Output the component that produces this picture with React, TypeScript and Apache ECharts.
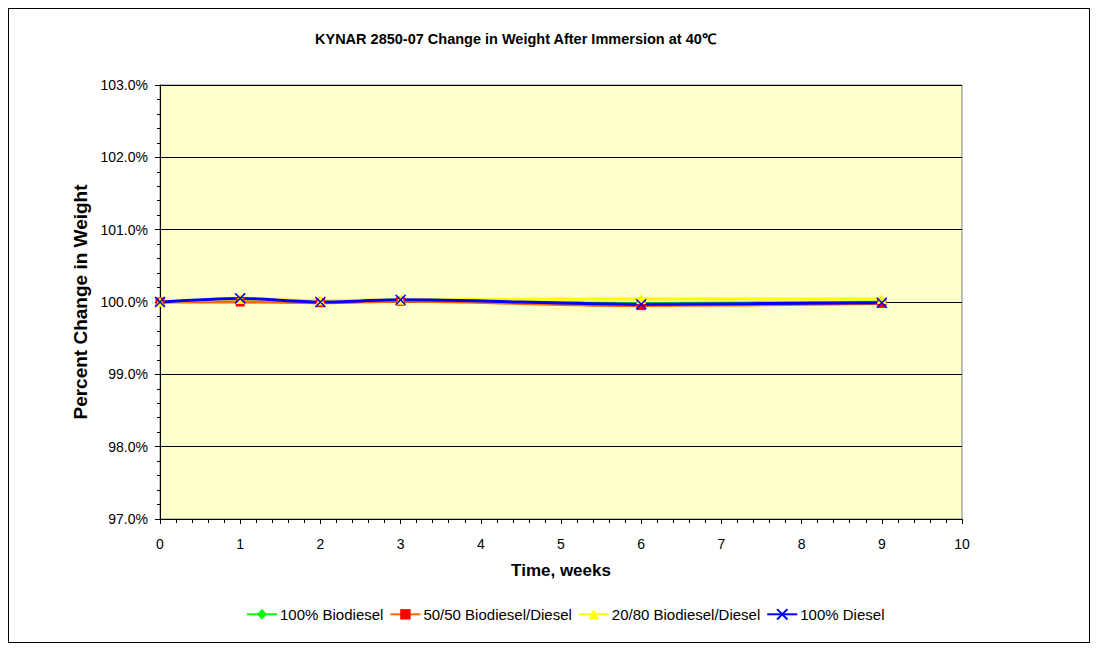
import React, { useEffect, useRef } from "react";
import * as echarts from "echarts";

const weeks = [0, 1, 2, 3, 6, 9];
const biodiesel100 = [100.0, 100.03, 100.01, 100.02, 99.98, 100.0];
const blend5050 = [100.0, 100.0, 99.99, 100.01, 99.95, 99.98];
const blend2080 = [100.0, 100.04, 100.02, 100.03, 100.04, 100.04];
const diesel100 = [100.0, 100.05, 100.0, 100.03, 99.97, 99.99];

const seriesNames = ["100% Biodiesel", "50/50 Biodiesel/Diesel", "20/80 Biodiesel/Diesel", "100% Diesel"];
const FONT = "Liberation Sans, Arial, sans-serif";

const pair = (vals: number[]) => weeks.map((w, i) => [w, vals[i]]);

export default function App() {
  const ref = useRef<HTMLDivElement>(null);
  useEffect(() => {
    if (!ref.current) return;
    const chart = echarts.init(ref.current, undefined, { renderer: "svg" });
    const xSym = "path://M0,0L10,10M10,0L0,10";
    chart.setOption({
      animation: false,
      textStyle: { fontFamily: FONT },
      title: {
        text: "KYNAR 2850-07 Change in Weight After Immersion at 40\u2103",
        left: 301,
        top: 17,
        textStyle: { fontSize: 14.5, fontWeight: "bold", color: "#000", fontFamily: FONT },
      },
      grid: {
        left: 151,
        top: 76,
        right: 127,
        bottom: 123,
        show: true,
        backgroundColor: "#FFFFCC",
        borderColor: "#808080",
        borderWidth: 1,
      },
      legend: {
        bottom: 15,
        left: 232,
        itemWidth: 30,
        itemHeight: 13,
        itemGap: 6,
        textStyle: { fontSize: 15, color: "#000", fontFamily: FONT, padding: [0, 0, 0, -2] },
        data: seriesNames,
      },
      xAxis: {
        type: "value",
        min: 0,
        max: 10,
        interval: 1,
        name: "Time, weeks",
        nameLocation: "middle",
        nameGap: 43,
        nameTextStyle: { fontSize: 17, fontWeight: "bold", color: "#000", fontFamily: FONT },
        axisLine: { lineStyle: { color: "#000", width: 1 } },
        axisTick: { show: true, length: 5, lineStyle: { color: "#000" } },
        minorTick: { show: true, splitNumber: 5, length: 4, lineStyle: { color: "#000" } },
        axisLabel: { fontSize: 14, color: "#000", margin: 18, fontFamily: FONT },
        splitLine: { show: false },
      },
      yAxis: {
        type: "value",
        min: 97,
        max: 103,
        interval: 1,
        name: "Percent Change in Weight",
        nameLocation: "middle",
        nameGap: 62,
        nameTextStyle: { fontSize: 19, fontWeight: "bold", color: "#000", fontFamily: FONT },
        axisLine: { show: true, lineStyle: { color: "#000", width: 1 } },
        axisTick: { show: true, length: 5, lineStyle: { color: "#000" } },
        minorTick: { show: true, splitNumber: 5, length: 3, lineStyle: { color: "#000" } },
        axisLabel: {
          fontSize: 14,
          color: "#000",
          margin: 12,
          fontFamily: FONT,
          formatter: (v: number) => v.toFixed(1) + "%",
        },
        splitLine: { show: true, lineStyle: { color: "#000", width: 1 } },
      },
      series: [
        {
          name: seriesNames[0],
          type: "line",
          data: pair(biodiesel100),
          smooth: 0.3,
          symbol: "diamond",
          symbolSize: 9,
          lineStyle: { color: "#00FF00", width: 3 },
          itemStyle: { color: "#00FF00" },
        },
        {
          name: seriesNames[1],
          type: "line",
          data: pair(blend5050),
          smooth: 0.3,
          symbol: "rect",
          symbolSize: 9,
          lineStyle: { color: "#FF6600", width: 3 },
          itemStyle: { color: "#FF0000" },
        },
        {
          name: seriesNames[2],
          type: "line",
          data: pair(blend2080),
          smooth: 0.3,
          symbol: "triangle",
          symbolSize: 10,
          lineStyle: { color: "#FFFF00", width: 3 },
          itemStyle: { color: "#FFFF00" },
        },
        {
          name: seriesNames[3],
          type: "line",
          data: pair(diesel100),
          smooth: 0.3,
          symbol: xSym,
          symbolSize: 10,
          lineStyle: { color: "#0000FF", width: 3 },
          itemStyle: { color: "none", borderColor: "#0000FF", borderWidth: 1.5 },
        },
      ],
    });
    return () => chart.dispose();
  }, []);
  return (
    <div
      ref={ref}
      style={{ width: 1082, height: 635, border: "1px solid #000", boxSizing: "border-box", background: "#fff" }}
    />
  );
}
